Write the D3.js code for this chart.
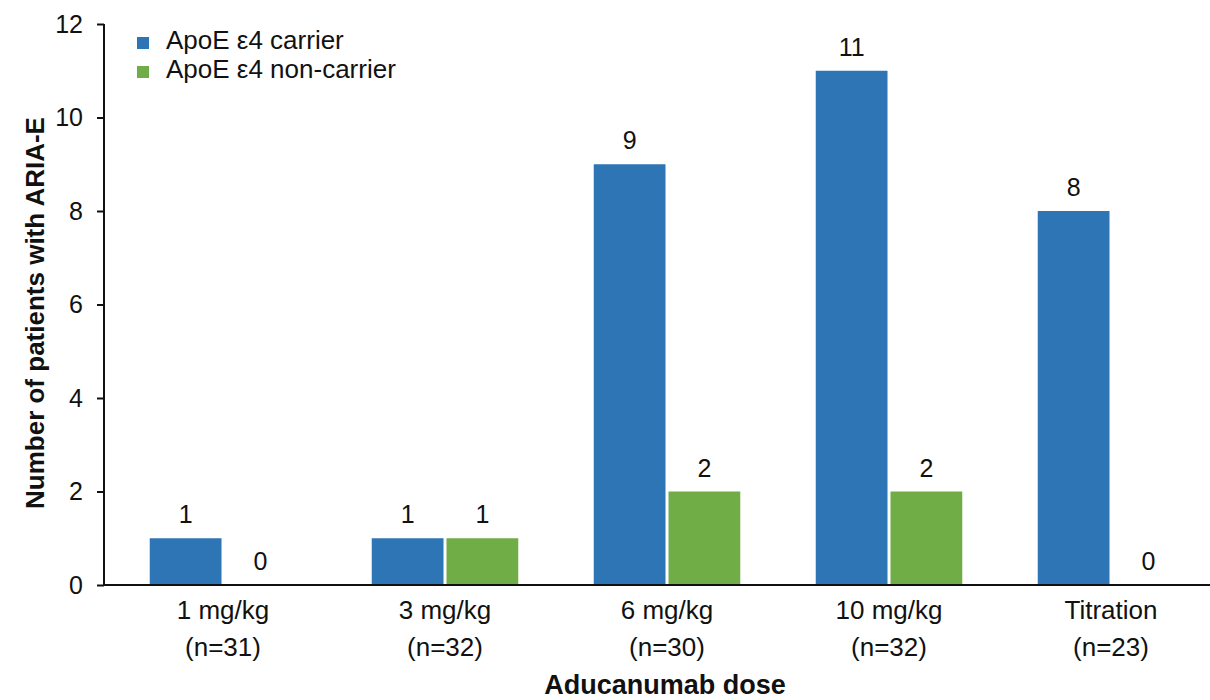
<!DOCTYPE html>
<html lang="en">
<head>
<meta charset="utf-8">
<title>ARIA-E by dose</title>
<script src="https://cdn.jsdelivr.net/npm/d3@7"></script>
<style>
  body { margin: 0; background: #fff; }
  svg text { font-family: "Liberation Sans", Arial, sans-serif; fill: #111; }
</style>
</head>
<body>
<div id="chart"></div>
<script>
// data
var doses = ["1 mg/kg", "3 mg/kg", "6 mg/kg", "10 mg/kg", "Titration"];
var nLabels = ["(n=31)", "(n=32)", "(n=30)", "(n=32)", "(n=23)"];
var groups = ["ApoE \u03b54 carrier", "ApoE \u03b54 non-carrier"];
var carrier = [1, 1, 9, 11, 8];
var nonCarrier = [0, 1, 2, 2, 0];
var yTicks = [0, 2, 4, 6, 8, 10, 12];
var colors = ["#2E75B6", "#70AD47"];

var w = 1210, h = 700;
var axisX = 104, axisEnd = 1210;

var svg = d3.select("#chart").append("svg")
  .attr("width", w)
  .attr("height", h);

// scales
var y = d3.scaleLinear().domain([0, 12]).range([585, 24]);
var x = d3.scaleBand().domain(doses).range([112, 1222]).paddingInner(0.34).paddingOuter(0.17);
var x1 = d3.scaleBand().domain(groups).range([0, x.bandwidth()]).paddingInner(0.04);

var rows = doses.map(function(d, i) {
  return { dose: d, vals: [carrier[i], nonCarrier[i]] };
});

// bars
var g = svg.selectAll("g.grp").data(rows).enter().append("g")
  .attr("class", "grp")
  .attr("transform", function(d) { return "translate(" + x(d.dose) + ",0)"; });

g.selectAll("rect").data(function(d) { return d.vals; }).enter().append("rect")
  .attr("x", function(v, j) { return x1(groups[j]); })
  .attr("y", function(v) { return y(v); })
  .attr("width", x1.bandwidth())
  .attr("height", function(v) { return y(0) - y(v); })
  .attr("fill", function(v, j) { return colors[j]; });

g.selectAll("text.val").data(function(d) { return d.vals; }).enter().append("text")
  .attr("class", "val")
  .attr("x", function(v, j) { return x1(groups[j]) + x1.bandwidth() / 2; })
  .attr("y", function(v) { return y(v) - 15; })
  .attr("text-anchor", "middle")
  .attr("font-size", 25)
  .text(function(v) { return v; });

// y axis
var yAxis = d3.axisLeft(y).tickValues(yTicks).tickSize(7).tickPadding(14);
var ya = svg.append("g").attr("transform", "translate(" + axisX + ",0)").call(yAxis);
ya.select(".domain").attr("d", "M0," + y(12) + "V" + y(0)).attr("stroke", "#111").attr("stroke-width", 2);
ya.selectAll(".tick line").attr("stroke", "#111").attr("stroke-width", 2);
ya.selectAll(".tick text").attr("font-size", 25).attr("font-family", "Liberation Sans, Arial, sans-serif").attr("fill", "#111");

// x axis line
svg.append("line")
  .attr("x1", axisX).attr("x2", axisEnd)
  .attr("y1", y(0)).attr("y2", y(0))
  .attr("stroke", "#111").attr("stroke-width", 2);

// category labels
var cat = svg.selectAll("text.cat").data(doses).enter().append("text")
  .attr("class", "cat")
  .attr("text-anchor", "middle")
  .attr("font-size", 26)
  .attr("x", function(d) { return x(d) + x.bandwidth() / 2; })
  .attr("y", 619);
cat.append("tspan").text(function(d) { return d; });
cat.append("tspan")
  .attr("x", function(d) { return x(d) + x.bandwidth() / 2; })
  .attr("dy", 37)
  .text(function(d, i) { return nLabels[i]; });

// axis titles
svg.append("text")
  .attr("x", 665).attr("y", 694)
  .attr("text-anchor", "middle")
  .attr("font-size", 27).attr("font-weight", "bold")
  .text("Aducanumab dose");

svg.append("text")
  .attr("transform", "translate(44,313) rotate(-90)")
  .attr("text-anchor", "middle")
  .attr("font-size", 26).attr("font-weight", "bold")
  .text("Number of patients with ARIA-E");

// legend
var lg = svg.selectAll("g.leg").data(groups).enter().append("g")
  .attr("class", "leg")
  .attr("transform", function(d, i) { return "translate(137," + (37 + i * 29) + ")"; });
lg.append("rect").attr("width", 12).attr("height", 12).attr("fill", function(d, i) { return colors[i]; });
lg.append("text").attr("x", 29).attr("y", 12).attr("font-size", 26).text(function(d) { return d; });
</script>
</body>
</html>
